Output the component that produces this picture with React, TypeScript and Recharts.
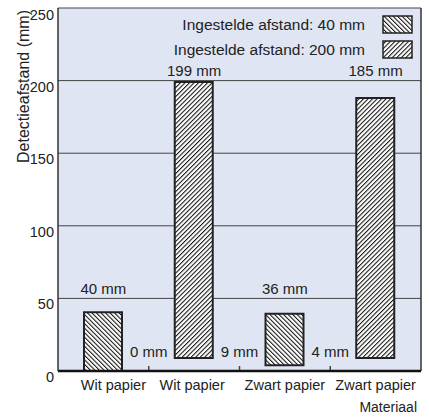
import { Bar, BarChart, CartesianGrid, Cell, Legend, ReferenceDot, ReferenceLine, XAxis, YAxis } from "recharts";

const categories = ["Wit papier", "Wit papier", "Zwart papier", "Zwart papier"];
const settings = [40, 200, 40, 200];
const rangeLow = [0, 9, 4, 9];
const rangeHigh = [40.5, 199, 39.5, 188];
const topLabels = ["40 mm", "199 mm", "36 mm", "185 mm"];
const gapLabels = ["0 mm", "9 mm", "4 mm"];
const yTicks = [0, 50, 100, 150, 200, 250];
const legendItems = [
  { setting: 40, label: "Ingestelde afstand: 40 mm" },
  { setting: 200, label: "Ingestelde afstand: 200 mm" }
];

// unique key per bar, since the category names repeat
const data = categories.map((name, i) => ({
  key: "c" + i,
  name,
  setting: settings[i],
  range: [rangeLow[i], rangeHigh[i]]
}));

const FONT = '"Liberation Sans", Arial, Helvetica, sans-serif';
const INK = "#222";
const BG = "#dfe5f2";

const patternId = (setting: number) => (setting === 40 ? "hatch-back" : "hatch-fwd");

function HatchDefs({ suffix = "" }: { suffix?: string }) {
  return (
    <defs>
      <pattern id={"hatch-back" + suffix} patternUnits="userSpaceOnUse" width={3.2} height={3.2} patternTransform="rotate(-45)">
        <rect width={3.2} height={3.2} fill="#fff" />
        <line x1={0.5} y1={0} x2={0.5} y2={3.2} stroke="#111" strokeWidth={1.1} />
      </pattern>
      <pattern id={"hatch-fwd" + suffix} patternUnits="userSpaceOnUse" width={3.2} height={3.2} patternTransform="rotate(45)">
        <rect width={3.2} height={3.2} fill="#fff" />
        <line x1={0.5} y1={0} x2={0.5} y2={3.2} stroke="#111" strokeWidth={1.1} />
      </pattern>
    </defs>
  );
}

function LegendBox() {
  return (
    <div style={{ fontFamily: FONT, fontSize: 15.5, color: INK }}>
      {legendItems.map((item) => (
        <div key={item.label} style={{ height: 25, display: "flex", justifyContent: "flex-end", alignItems: "center" }}>
          <span>{item.label}</span>
          <svg width={31} height={19} style={{ marginLeft: 17 }}>
            <HatchDefs suffix="-lg" />
            <rect x={1} y={1} width={29} height={17} fill={`url(#${patternId(item.setting)}-lg)`} stroke={INK} strokeWidth={1.5} />
          </svg>
        </div>
      ))}
    </div>
  );
}

function YTick({ x, y, payload }: any) {
  return (
    <text x={x} y={y + 6} textAnchor="end" dominantBaseline="central" fontFamily={FONT} fontSize={14.5} fill={INK}>
      {payload.value}
    </text>
  );
}

function XTick({ x, y, index }: any) {
  const shift = index === 0 ? 10 : index === 1 ? -2 : 0;
  return (
    <text x={x + shift} y={y + 14} textAnchor="middle" dominantBaseline="central" fontFamily={FONT} fontSize={14.5} fill={INK}>
      {categories[index]}
    </text>
  );
}

// short inward tick on the boundary between two bars, with the gap label above it
const boundaryTick = (text: string) => (props: any) => {
  const { x1, y1, y2 } = props;
  const yb = Math.max(y1, y2);
  return (
    <g>
      <line x1={x1} x2={x1} y1={yb - 5} y2={yb} stroke="#444" strokeWidth={1.5} />
      <text x={x1} y={yb - 20} textAnchor="middle" dominantBaseline="central" fontFamily={FONT} fontSize={15} fill={INK}>
        {text}
      </text>
    </g>
  );
};

const textLabel = (text: string, dy: number) => (props: any) => {
  const { viewBox } = props;
  return (
    <text x={viewBox.x} y={viewBox.y + dy} textAnchor="middle" dominantBaseline="central" fontFamily={FONT} fontSize={15} fill={INK}>
      {text}
    </text>
  );
};

export default function App() {
  return (
    <div style={{ position: "absolute", left: 0, top: 0, width: 429, height: 418, fontFamily: FONT }}>
      <BarChart width={429} height={418} data={data} margin={{ top: 8, right: 8, bottom: 0, left: 0 }}>
        <HatchDefs />
        <CartesianGrid vertical={false} fill={BG} fillOpacity={1} stroke="#444" strokeWidth={1} />
        <XAxis
          dataKey="key"
          height={47}
          tickLine={false}
          tickSize={0}
          tickMargin={0}
          tick={<XTick />}
          axisLine={{ stroke: "#111", strokeWidth: 2.5 }}
          label={(p: any) => (
            <text x={p.viewBox.x + p.viewBox.width - 4} y={p.viewBox.y + 36} textAnchor="end" dominantBaseline="central" fontFamily={FONT} fontSize={14} fill={INK}>
              Materiaal
            </text>
          )}
        />
        <YAxis
          width={58}
          domain={[0, 250]}
          ticks={yTicks}
          tickLine={false}
          tickSize={0}
          tickMargin={4}
          tick={<YTick />}
          axisLine={{ stroke: "#333", strokeWidth: 1.5 }}
          label={(p: any) => (
            <text
              x={23}
              y={p.viewBox.y + 2}
              transform={`rotate(-90 23 ${p.viewBox.y + 2})`}
              textAnchor="end"
              dominantBaseline="central"
              fontFamily={FONT}
              fontSize={16}
              fill={INK}
            >
              Detectieafstand (mm)
            </text>
          )}
        />
        <ReferenceLine x={data[data.length - 1].key} position="end" stroke="#333" strokeWidth={1.5} />
        {gapLabels.map((t, i) => (
          <ReferenceLine key={"t" + i} x={data[i + 1].key} position="start" shape={boundaryTick(t)} />
        ))}
        <Bar dataKey="range" barSize={38} isAnimationActive={false} stroke={INK} strokeWidth={2}>
          {data.map((d, i) => (
            <Cell key={i} fill={`url(#${patternId(d.setting)})`} />
          ))}
        </Bar>
        {topLabels.map((t, i) => (
          <ReferenceDot
            key={"v" + i}
            x={data[i].key}
            y={rangeHigh[i] > 100 ? 200 : 50}
            r={0}
            fill="none"
            stroke="none"
            label={textLabel(t, -10)}
          />
        ))}
        <Legend
          layout="vertical"
          align="center"
          verticalAlign="middle"
          wrapperStyle={{ top: 12, left: 160, width: 253 }}
          content={() => <LegendBox />}
        />
      </BarChart>
    </div>
  );
}
